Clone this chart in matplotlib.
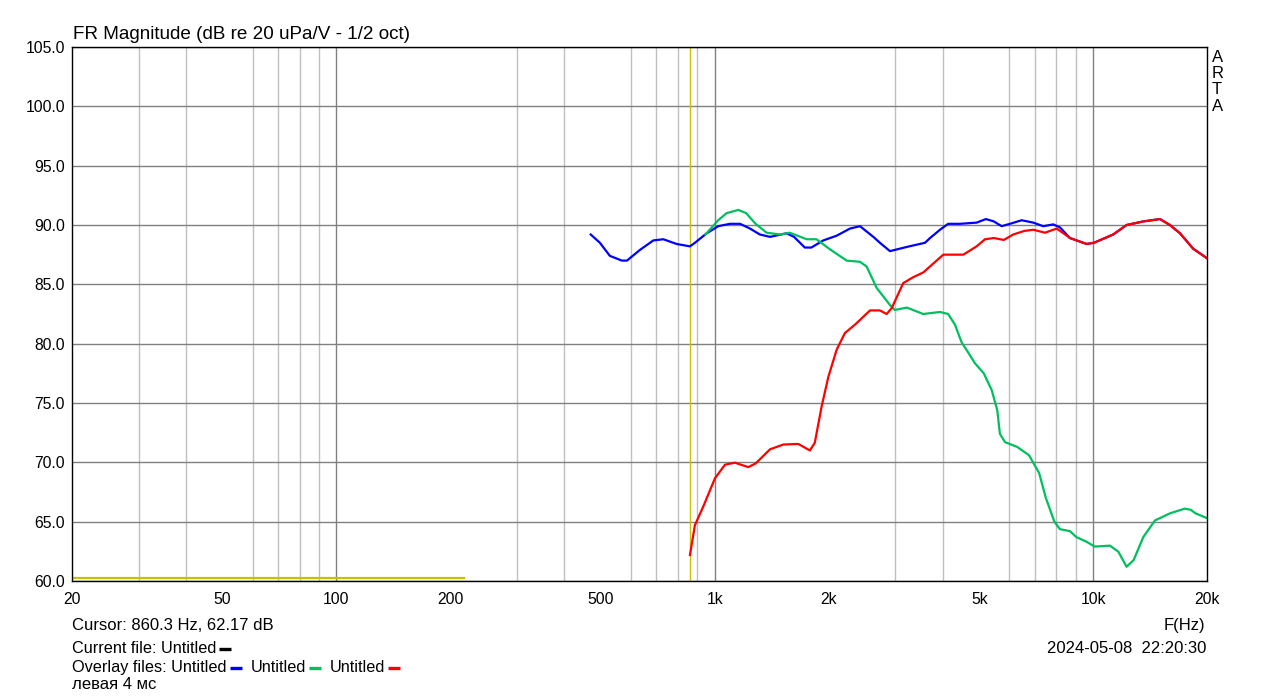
import matplotlib
matplotlib.use('Agg')
import matplotlib.pyplot as plt
from matplotlib.lines import Line2D
from matplotlib.ticker import LogLocator, NullFormatter

# --- data ---
blue_f = [470, 497, 528, 568, 586, 634, 688, 731, 793, 860, 886, 952, 1021, 1097, 1166,
          1239, 1316, 1400, 1548, 1620, 1730, 1800, 1935, 2100, 2277, 2420, 2625, 2732,
          2904, 3266, 3594, 3706, 3938, 4138, 4446, 4921, 5208, 5467, 5730, 6026, 6472,
          6950, 7380, 7846, 8170, 8686, 9616, 10050, 11300, 12260, 13570, 15020, 15960,
          16970, 18390, 20000]
blue_db = [89.2, 88.5, 87.4, 87.0, 87.0, 87.9, 88.7, 88.8, 88.4, 88.2, 88.5, 89.3, 89.9,
           90.1, 90.1, 89.7, 89.2, 89.0, 89.3, 89.0, 88.1, 88.1, 88.7, 89.1, 89.7, 89.9,
           89.0, 88.5, 87.8, 88.2, 88.5, 88.9, 89.6, 90.1, 90.1, 90.2, 90.5, 90.3, 89.9,
           90.1, 90.4, 90.2, 89.9, 90.05, 89.8, 88.9, 88.4, 88.5, 89.2, 90.0, 90.3, 90.5,
           90.0, 89.3, 88.0, 87.2]

green_f = [945, 1021, 1075, 1154, 1210, 1282, 1371, 1487, 1577, 1750, 1857, 2016, 2232,
           2420, 2520, 2678, 2904, 2990, 3220, 3556, 3938, 4138, 4314, 4493, 4666, 4872,
           5140, 5393, 5580, 5671, 5850, 6300, 6770, 7200, 7500, 7900, 8170, 8686, 9030,
           9616, 10100, 11080, 11660, 12260, 12800, 13570, 14570, 15960, 17470, 18120,
           18650, 20000]
green_db = [89.2, 90.4, 91.0, 91.27, 91.0, 90.1, 89.35, 89.2, 89.35, 88.8, 88.8, 87.95,
            87.0, 86.9, 86.5, 84.7, 83.26, 82.84, 83.04, 82.5, 82.67, 82.5, 81.6, 80.1,
            79.3, 78.35, 77.5, 76.1, 74.4, 72.4, 71.7, 71.3, 70.6, 69.1, 67.0, 65.0, 64.37,
            64.2, 63.7, 63.3, 62.9, 62.98, 62.47, 61.2, 61.77, 63.7, 65.1, 65.7, 66.1, 66.0,
            65.7, 65.3]

red_f = [860, 886, 933, 1001, 1064, 1130, 1226, 1282, 1400, 1518, 1662, 1784, 1838, 1916,
         1996, 2100, 2208, 2347, 2572, 2732, 2846, 2936, 3086, 3148, 3346, 3556, 4018,
         4538, 4921, 5180, 5467, 5807, 6150, 6580, 6950, 7460, 8010, 8350, 8686, 9616,
         10050, 11300, 12260, 13570, 15020, 15960, 16970, 18390, 20000]
red_db = [62.2, 64.7, 66.3, 68.65, 69.8, 69.97, 69.6, 69.9, 71.1, 71.5, 71.55, 71.0, 71.65,
          74.7, 77.2, 79.5, 80.9, 81.6, 82.8, 82.8, 82.5, 83.0, 84.5, 85.1, 85.6, 86.0,
          87.5, 87.5, 88.2, 88.8, 88.9, 88.74, 89.2, 89.5, 89.6, 89.35, 89.7, 89.3, 88.9,
          88.4, 88.5, 89.2, 90.0, 90.3, 90.5, 90.0, 89.3, 88.0, 87.2]

current_f = [20, 218]
current_db = [60.27, 60.27]

cursor_freq = 860.3
cursor_db = 62.17

x_ticks = [20, 50, 100, 200, 500, 1000, 2000, 5000, 10000, 20000]
x_labels = ['20', '50', '100', '200', '500', '1k', '2k', '5k', '10k', '20k']
y_ticks = [60, 65, 70, 75, 80, 85, 90, 95, 100, 105]
decades = [100, 1000, 10000]

BLUE = '#0000FF'
GREEN = '#00BF5F'
RED = '#FF0000'
YELLOW = '#C8C000'

W, H = 1279, 699
plt.rcParams['font.family'] = ['Liberation Sans', 'DejaVu Sans']

fig = plt.figure(figsize=(W / 100, H / 100), dpi=100)
ax = fig.add_axes([72 / W, (H - 581) / H, (1207 - 72) / W, (581 - 47) / H])

ax.set_xscale('log')
ax.set_xlim(20, 20000)
ax.set_ylim(60, 105)

# grid
ax.xaxis.set_minor_locator(LogLocator(base=10, subs=range(2, 10)))
ax.xaxis.set_minor_formatter(NullFormatter())
ax.grid(which='minor', axis='x', color='#C0C0C0', lw=1)
for d in decades:
    ax.axvline(d, color='#808080', lw=1, zorder=0.9)
ax.set_yticks(y_ticks, [f'{v:.1f}' for v in y_ticks])
ax.grid(which='major', axis='y', color='#808080', lw=1)
ax.set_xticks(x_ticks, x_labels)
ax.tick_params(which='both', length=0, labelsize=11.3)
ax.tick_params(axis='x', pad=8)
ax.tick_params(axis='y', pad=5)
ax.set_axisbelow(True)
for s in ax.spines.values():
    s.set_color('black')
    s.set_linewidth(1)

# curves
ax.plot(current_f, current_db, color=YELLOW, lw=1.6)
ax.axvline(cursor_freq, color=YELLOW, lw=1.0)
ax.plot(blue_f, blue_db, color=BLUE, lw=1.6)
ax.plot(green_f, green_db, color=GREEN, lw=1.6)
ax.plot(red_f, red_db, color=RED, lw=1.6)

# texts
fs = 12
fig.text(73 / W, (H - 39) / H, 'FR Magnitude (dB re 20 uPa/V - 1/2 oct)',
         fontsize=13.6, va='baseline', ha='left')
fig.text(1212 / W, (H - 50) / H, 'A\nR\nT\nA', fontsize=fs, va='top', ha='left',
         linespacing=1.1)
fig.text(1205 / W, (H - 630) / H, 'F(Hz)', fontsize=fs, va='baseline', ha='right')
fig.text(1206 / W, (H - 653) / H, '2024-05-08  22:20:30', fontsize=fs, va='baseline',
         ha='right')
fig.text(72 / W, (H - 630) / H, f'Cursor: {cursor_freq} Hz, {cursor_db} dB',
         fontsize=fs, va='baseline', ha='left')
fig.text(72 / W, (H - 689) / H, 'левая 4 мс', fontsize=fs, va='baseline', ha='left')

renderer = fig.canvas.get_renderer()


def text_with_dash(x, y, label, color):
    t = fig.text(x / W, (H - y) / H, label, fontsize=11.7, va='baseline', ha='left')
    x1 = t.get_window_extent(renderer).x1
    fig.add_artist(Line2D([(x1 + 3) / W, (x1 + 15) / W],
                          [(H - y + 4.5) / H, (H - y + 4.5) / H],
                          color=color, lw=2.4, solid_capstyle='butt'))
    return x1 + 15


text_with_dash(72, 653, 'Current file: Untitled', 'black')
xpos = text_with_dash(72, 672, 'Overlay files: Untitled', BLUE)
xpos = text_with_dash(xpos + 9, 672, 'Untitled', GREEN)
xpos = text_with_dash(xpos + 9, 672, 'Untitled', RED)

fig.savefig('out.png', dpi=100)
